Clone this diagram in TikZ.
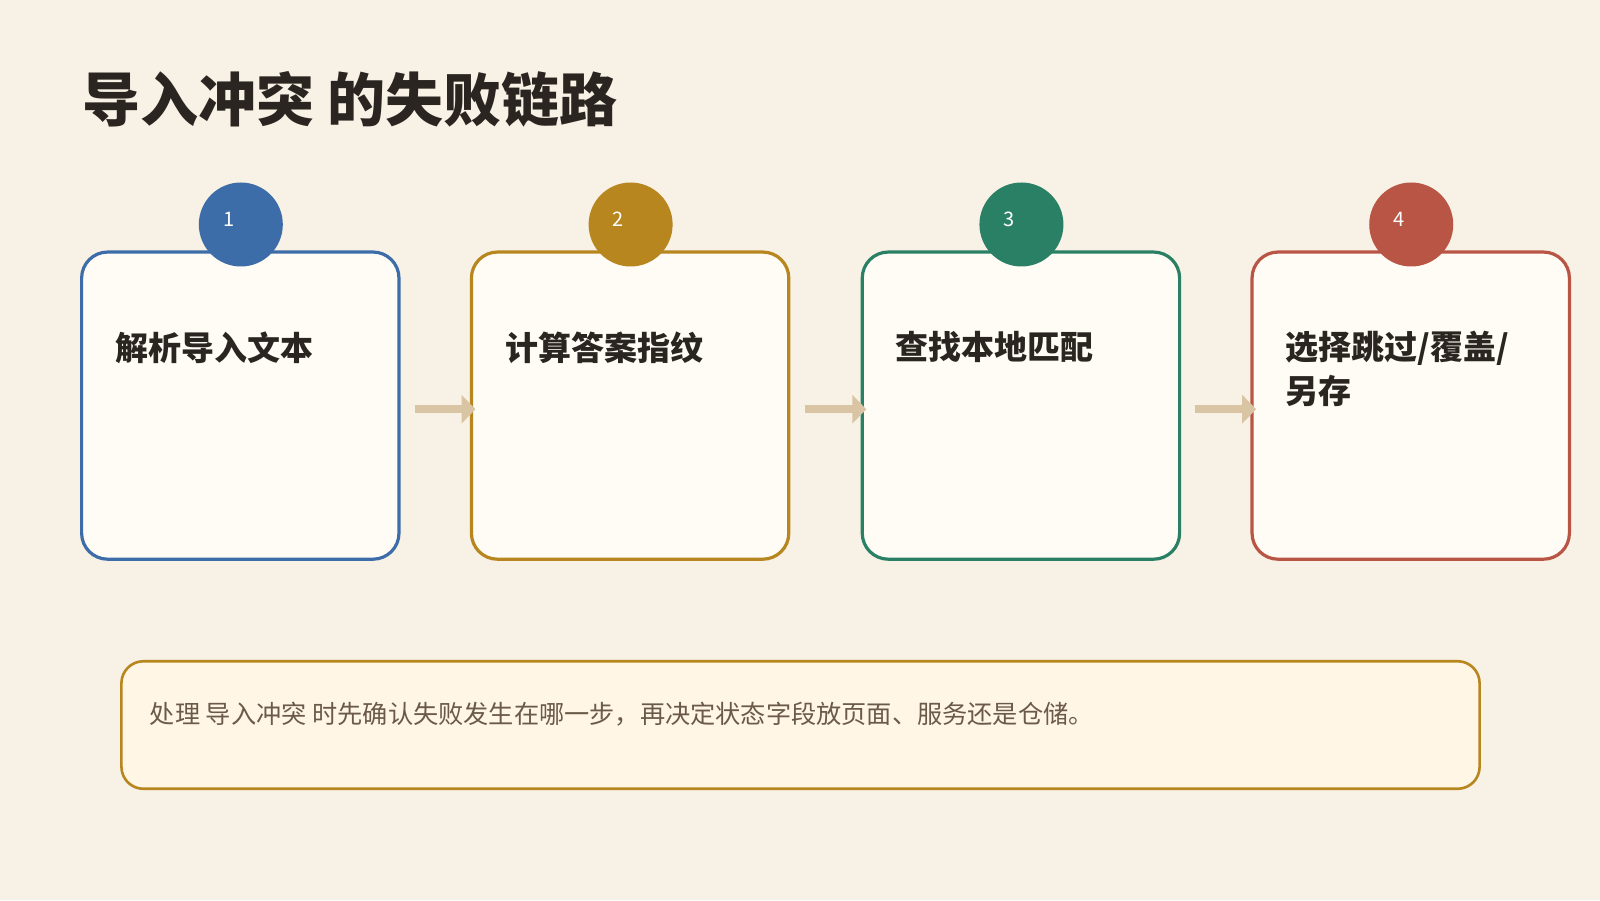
\documentclass[tikz,border=0pt]{standalone}
\usepackage{fontspec}
\setmainfont{Noto Sans CJK SC}
\usetikzlibrary{arrows.meta}
\definecolor{bg}{HTML}{F8F1E5}
\definecolor{cblue}{HTML}{3D6DA8}
\definecolor{cgold}{HTML}{B8861F}
\definecolor{cgreen}{HTML}{2A8065}
\definecolor{cred}{HTML}{B85545}
\definecolor{boxfill}{HTML}{FFFCF6}
\definecolor{notefill}{HTML}{FFF6E6}
\definecolor{arr}{HTML}{D9C4A3}
\definecolor{ttl}{HTML}{2A2520}
\definecolor{notetxt}{HTML}{6B5A48}
\begin{document}
\begin{tikzpicture}[x=0.5102pt,y=-0.5102pt,
  card/.style={draw=#1,line width=1.6pt,fill=boxfill,rounded corners=13pt},
  badge/.style={circle,fill=#1,minimum size=42pt,inner sep=0pt,text=white,font=\fontsize{10}{12}\selectfont},
  lbl/.style={anchor=north west,align=left,text=ttl,font=\fontsize{16.5}{22}\selectfont\bfseries},
  flow/.style={draw=arr,line width=4pt,-{Triangle[length=7pt,width=14pt]}}]
\useasboundingbox[fill=bg] (0,0) rectangle (1568,882);
\node[anchor=west,text=ttl,font=\fontsize{29}{34}\selectfont\bfseries] (title) at (74,97) {导入冲突 的失败链路};
\foreach \i/\x/\c/\t in {1/80/cblue/解析导入文本,2/462/cgold/计算答案指纹,3/845/cgreen/查找本地匹配,4/1227/cred/{选择跳过/覆盖/\\另存}}{
  \draw[card=\c] (\x,247) rectangle +(311,301);
  \coordinate (b\i) at (\x,400);
  \node[badge=\c] (n\i) at ({\x+156},220) {};
  \node[text=white,font=\fontsize{10}{12}\selectfont] (k\i) at ({\x+144},215) {\i};
  \node[lbl] (t\i) at ({\x+26},318) {\t};
}
\coordinate (a1s) at (407,401); \coordinate (a1e) at (466,401);
\coordinate (a2s) at (789,401); \coordinate (a2e) at (849,401);
\coordinate (a3s) at (1171,401); \coordinate (a3e) at (1231,401);
\draw[flow] (a1s) -- (a1e);
\draw[flow] (a2s) -- (a2e);
\draw[flow] (a3s) -- (a3e);
\draw[draw=cgold,line width=1.3pt,fill=notefill,rounded corners=11pt] (119,648) rectangle (1450,773);
\node[anchor=west,text=notetxt,font=\fontsize{12.6}{15}\selectfont] (note) at (140,700) {处理 导入冲突 时先确认失败发生在哪一步，再决定状态字段放页面、服务还是仓储。};
\end{tikzpicture}
\end{document}
